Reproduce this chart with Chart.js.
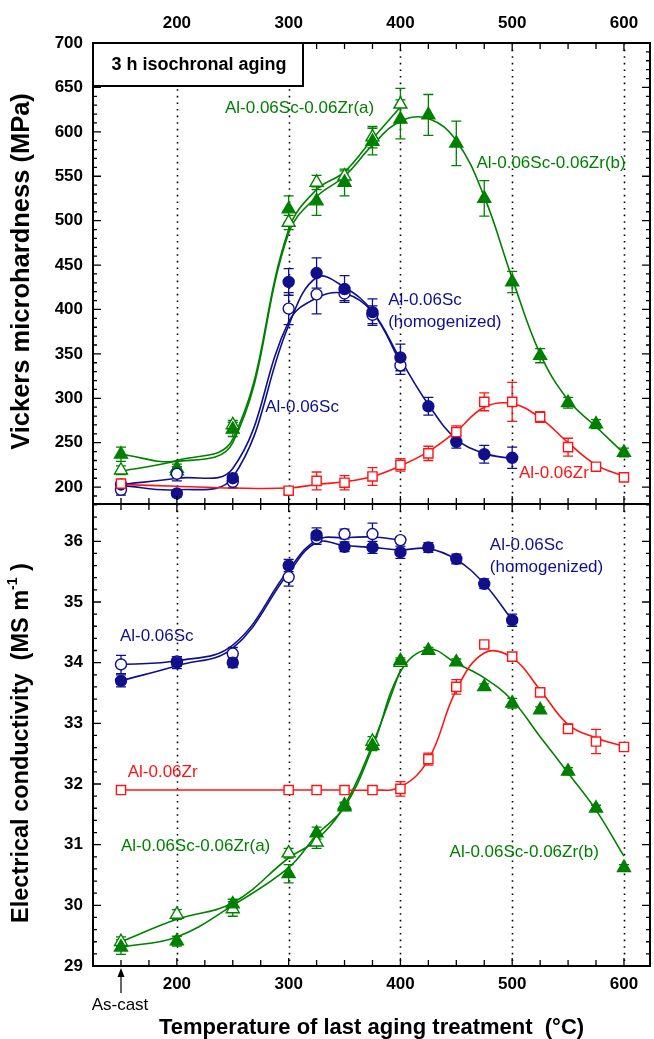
<!DOCTYPE html>
<html>
<head>
<meta charset="utf-8">
<script src="https://cdn.jsdelivr.net/npm/chart.js@4.4.0/dist/chart.umd.min.js"></script>
<style>
  body { margin: 0; background: #fff; }
  #wrap { position: relative; width: 654px; height: 1039px; }
  canvas { position: absolute; left: 0; }
</style>
</head>
<body>
<div id="wrap">
  <canvas id="hv" width="654" height="510" style="top:0px"></canvas>
  <canvas id="ec" width="654" height="539" style="top:500px"></canvas>
</div>
<script>
// aging temperatures (150 = as-cast)
const temps = [150, 200, 250, 300, 325, 350, 375, 400, 425, 450, 475, 500, 525, 550, 575, 600];
const xTickLabels = [200, 300, 400, 500, 600];
const hvTicks = [200, 250, 300, 350, 400, 450, 500, 550, 600, 650, 700];
const ecTicks = [29, 30, 31, 32, 33, 34, 35, 36];

// Vickers microhardness (MPa): markers, error bars, fitted curve
const hvZrB    = [237, 221, 265, 513, 522, 543, 589, 614, 619, 587, 525, 431, 348, 295, 271, 239];
const hvZrBErr = [8, 5, 8, 15, 16, 15, 15, 22, 23, 25, 20, 12, 8, 6, 5, 5];
const hvZrBFit = [237, 229, 250, 486, 527, 550, 585, 612, 615, 590, 527, 435, 350, 298, 268, 238];
const hvZrA    = [219, 218, 270, 498, 543, 550, 594, 631];
const hvZrAErr = [5, 5, 5, 8, 8, 6, 12, 18];
const hvZrAFit = [218, 230, 254, 490, 535, 555, 592, 628];
const hvScHom    = [203, 193, 210, 431, 441, 423, 397, 346, 291, 251, 237, 233];
const hvScHomErr = [5, 4, 5, 15, 17, 15, 15, 15, 10, 7, 10, 12];
const hvScHomFit = [202, 197, 211, 382, 436, 425, 398, 344, 293, 254, 238, 232];
const hvSc    = [197, 215, 206, 401, 417, 418, 394, 337];
const hvScErr = [6, 8, 7, 18, 22, 8, 10, 10];
const hvScFit = [203, 210, 221, 386, 413, 418, 397, 340];
const hvZr    = [204, null, null, 196, 207, 205, 212, 225, 238, 262, 296, 296, 279, 245, 223, 211];
const hvZrErr = [4, 0, 0, 4, 10, 8, 10, 7, 8, 7, 10, 22, 6, 10, 4, 4];
const hvZrFit = [203, 201, 199, 199, 203, 206, 212, 224, 240, 263, 290, 294, 278, 250, 225, 212];

// electrical conductivity (MS/m)
const ecZrB    = [29.31, 29.41, 30.02, 30.52, 31.19, 31.62, 32.63, 34.03, 34.20, 34.01, 33.60, 33.33, 33.22, 32.21, 31.60, 30.62];
const ecZrBErr = [0.12, 0.08, 0.08, 0.15, 0.1, 0.06, 0.08, 0.05, 0.05, 0.05, 0.05, 0.08, 0.05, 0.06, 0.05, 0.05];
const ecZrBFit = [29.31, 29.48, 30.00, 30.62, 31.16, 31.62, 32.60, 33.85, 34.22, 33.99, 33.75, 33.38, 32.78, 32.18, 31.57, 30.81];
const ecZrA    = [29.40, 29.85, 29.94, 30.86, 31.04, 31.65, 32.70, 34.00];
const ecZrAErr = [0.08, 0.08, 0.12, 0.08, 0.1, 0.05, 0.08, 0.05];
const ecZrAFit = [29.40, 29.77, 30.04, 30.78, 31.08, 31.65, 32.65, 33.88];
const ecScHom    = [33.70, 34.00, 34.00, 35.60, 36.10, 35.91, 35.90, 35.82, 35.90, 35.71, 35.30, 34.70];
const ecScHomErr = [0.1, 0.1, 0.08, 0.1, 0.12, 0.08, 0.1, 0.1, 0.08, 0.08, 0.08, 0.1];
const ecScHomFit = [33.70, 33.95, 34.24, 35.48, 35.98, 35.93, 35.90, 35.86, 35.88, 35.70, 35.30, 34.70];
const ecSc    = [33.97, 34.02, 34.15, 35.41, 36.05, 36.12, 36.12, 36.02];
const ecScErr = [0.15, 0.08, 0.1, 0.15, 0.1, 0.08, 0.18, 0.05];
const ecScFit = [33.97, 34.03, 34.29, 35.53, 36.02, 36.06, 36.07, 36.02];
const ecZr    = [31.90, null, null, 31.90, 31.90, 31.90, 31.90, 31.92, 32.41, 33.60, 34.30, 34.10, 33.51, 32.91, 32.70, 32.61];
const ecZrErr = [0, 0, 0, 0, 0, 0, 0, 0.12, 0.1, 0.12, 0.05, 0.05, 0.05, 0.08, 0.2, 0.05];
const ecZrFit = [31.90, 31.90, 31.90, 31.90, 31.90, 31.90, 31.90, 31.95, 32.40, 33.55, 34.16, 34.08, 33.55, 32.98, 32.76, 32.62];

const GREEN = '#008000', BLUE = '#10108c', RED = '#ff1414';
const FONT = '"Liberation Sans", Arial, Helvetica, sans-serif';
Chart.defaults.font.family = FONT;
Chart.defaults.color = '#000';

function pts(vals) {
  return vals.map((v, i) => v == null ? null : { x: temps[i], y: v }).filter(Boolean);
}

function series(vals, errs, fit, color, style, filled, r) {
  return [
    { data: pts(fit), borderColor: color, borderWidth: 1.6, pointRadius: 0, tension: 0.4, order: 2 },
    {
      data: vals.map((v, i) => v == null ? null : { x: temps[i], y: v, e: errs[i] }).filter(Boolean),
      showLine: false, pointStyle: style, pointRadius: r, backgroundColor: filled ? color : '#fff',
      borderColor: color, borderWidth: 1.4, order: 1, errs: true
    }
  ];
}

// dotted verticals + error bars under the markers
const underlay = {
  id: 'underlay',
  beforeDatasetsDraw(chart) {
    const { ctx, chartArea: a, scales: { x, y } } = chart;
    ctx.save();
    ctx.strokeStyle = '#000';
    ctx.lineWidth = 1.6;
    ctx.setLineDash([1.6, 5]);
    xTickLabels.forEach(t => {
      const px = Math.round(x.getPixelForValue(t)) + 0.5;
      ctx.beginPath(); ctx.moveTo(px, a.top); ctx.lineTo(px, a.bottom); ctx.stroke();
    });
    ctx.setLineDash([]);
    ctx.lineWidth = 1.3;
    chart.data.datasets.forEach(ds => {
      if (!ds.errs) return;
      ctx.strokeStyle = ds.borderColor;
      ds.data.forEach(p => {
        if (!p.e) return;
        const px = x.getPixelForValue(p.x);
        const t = y.getPixelForValue(p.y + p.e), b = y.getPixelForValue(p.y - p.e);
        ctx.beginPath();
        ctx.moveTo(px, t); ctx.lineTo(px, b);
        ctx.moveTo(px - 5, t); ctx.lineTo(px + 5, t);
        ctx.moveTo(px - 5, b); ctx.lineTo(px + 5, b);
        ctx.stroke();
      });
    });
    ctx.restore();
  }
};

// frame with inward ticks on all four sides
function makeFrame(minor, ratio) {
  return {
    id: 'frame',
    afterDatasetsDraw(chart) {
      const { ctx, chartArea: a, scales: { x, y } } = chart;
      ctx.save();
      ctx.strokeStyle = '#000';
      ctx.lineWidth = 1.3;
      ctx.beginPath();
      for (let t = 150; t <= 600; t += 25) {
        const px = x.getPixelForValue(t), len = t % 100 === 0 ? 8 : 6;
        ctx.moveTo(px, a.top); ctx.lineTo(px, a.top + len);
        ctx.moveTo(px, a.bottom); ctx.lineTo(px, a.bottom - len);
      }
      const k0 = Math.ceil(y.min / minor - 1e-6), k1 = Math.floor(y.max / minor + 1e-6);
      for (let k = k0; k <= k1; k++) {
        const py = y.getPixelForValue(k * minor), len = k % ratio === 0 ? 8 : 4;
        ctx.moveTo(a.left, py); ctx.lineTo(a.left + len, py);
        ctx.moveTo(a.right, py); ctx.lineTo(a.right - len, py);
      }
      ctx.stroke();
      ctx.lineWidth = 2;
      ctx.strokeRect(a.left, a.top, a.right - a.left, a.bottom - a.top);
      ctx.restore();
    }
  };
}

function makeNotes(list) {
  return {
    id: 'notes',
    afterDraw(chart) {
      const { ctx, scales: { x, y } } = chart;
      ctx.save();
      ctx.font = '17px ' + FONT;
      ctx.textBaseline = 'middle';
      ctx.textAlign = 'left';
      list.forEach(n => {
        ctx.fillStyle = n.c;
        ctx.fillText(n.t, x.getPixelForValue(n.x), y.getPixelForValue(n.y));
      });
      ctx.restore();
    }
  };
}

const hvNotes = [
  { t: 'Al-0.06Sc-0.06Zr(a)', x: 243, y: 626, c: GREEN },
  { t: 'Al-0.06Sc-0.06Zr(b)', x: 468, y: 565, c: GREEN },
  { t: 'Al-0.06Sc', x: 279, y: 290, c: BLUE },
  { t: 'Al-0.06Sc', x: 389, y: 410.6, c: BLUE },
  { t: '(homogenized)', x: 389, y: 385, c: BLUE },
  { t: 'Al-0.06Zr', x: 506, y: 216, c: RED }
];
const ecNotes = [
  { t: 'Al-0.06Sc', x: 149, y: 34.43, c: BLUE },
  { t: 'Al-0.06Sc', x: 480, y: 35.94, c: BLUE },
  { t: '(homogenized)', x: 480, y: 35.57, c: BLUE },
  { t: 'Al-0.06Zr', x: 156, y: 32.2, c: RED },
  { t: 'Al-0.06Sc-0.06Zr(a)', x: 150, y: 30.98, c: GREEN },
  { t: 'Al-0.06Sc-0.06Zr(b)', x: 444, y: 30.88, c: GREEN }
];

const hvExtras = {
  id: 'hvExtras',
  afterDraw(chart) {
    const { ctx, chartArea: a } = chart;
    ctx.save();
    ctx.fillStyle = '#fff';
    ctx.fillRect(a.left, a.top, 210, 43);
    ctx.strokeStyle = '#000';
    ctx.lineWidth = 2;
    ctx.strokeRect(a.left, a.top, 210, 43);
    ctx.fillStyle = '#000';
    ctx.font = 'bold 18px ' + FONT;
    ctx.textAlign = 'center';
    ctx.textBaseline = 'middle';
    ctx.fillText('3 h isochronal aging', a.left + 106, a.top + 22);
    ctx.translate(22, 271.5);
    ctx.rotate(-Math.PI / 2);
    ctx.font = 'bold 25.5px ' + FONT;
    ctx.fillText('Vickers microhardness (MPa)', 0, 0);
    ctx.restore();
  }
};

const ecExtras = {
  id: 'ecExtras',
  afterDraw(chart) {
    const { ctx, chartArea: a, scales: { x } } = chart;
    ctx.save();
    // y title with superscript
    const main = 'Electrical conductivity  (MS m', sup = '-1', tail = ' )';
    ctx.translate(22, 243);
    ctx.rotate(-Math.PI / 2);
    ctx.fillStyle = '#000';
    ctx.textBaseline = 'middle';
    ctx.textAlign = 'left';
    ctx.font = 'bold 23.5px ' + FONT;
    const w1 = ctx.measureText(main).width, w3 = ctx.measureText(tail).width;
    ctx.font = 'bold 14px ' + FONT;
    const w2 = ctx.measureText(sup).width;
    let s = -(w1 + w2 + w3) / 2;
    ctx.font = 'bold 23.5px ' + FONT;
    ctx.fillText(main, s, 0);
    ctx.font = 'bold 14px ' + FONT;
    ctx.fillText(sup, s + w1, -9);
    ctx.font = 'bold 23.5px ' + FONT;
    ctx.fillText(tail, s + w1 + w2, 0);
    ctx.restore();

    // as-cast marker
    const px = x.getPixelForValue(150);
    ctx.save();
    ctx.strokeStyle = '#000';
    ctx.fillStyle = '#000';
    ctx.lineWidth = 1.2;
    ctx.beginPath(); ctx.moveTo(px, a.bottom + 27); ctx.lineTo(px, a.bottom + 8); ctx.stroke();
    ctx.beginPath();
    ctx.moveTo(px, a.bottom + 2); ctx.lineTo(px - 3.5, a.bottom + 11); ctx.lineTo(px + 3.5, a.bottom + 11);
    ctx.closePath(); ctx.fill();
    ctx.font = '17px ' + FONT;
    ctx.textAlign = 'center';
    ctx.textBaseline = 'middle';
    ctx.fillText('As-cast', px - 1, a.bottom + 39);
    ctx.restore();
  }
};

function noPad(s) {
  s.paddingTop = 0; s.paddingBottom = 0; s.paddingLeft = 0; s.paddingRight = 0;
}

function baseOptions(yMin, yMax, yTicks, xPos, xHeight, pad) {
  return {
    responsive: false,
    animation: false,
    events: [],
    layout: { padding: pad, autoPadding: false },
    plugins: { legend: { display: false }, tooltip: { enabled: false } },
    scales: {
      x: {
        type: 'linear', position: xPos, min: 124.95, max: 623.3,
        grid: { display: false, drawTicks: false }, border: { display: false },
        afterBuildTicks: s => { s.ticks = xTickLabels.map(v => ({ value: v })); },
        afterFit: s => { s.height = xHeight; noPad(s); },
        ticks: { padding: xPos === 'top' ? 9 : 8, autoSkip: false, maxRotation: 0, font: { size: 17, weight: 'bold' } }
      },
      y: {
        type: 'linear', min: yMin, max: yMax,
        grid: { display: false, drawTicks: false }, border: { display: false },
        afterBuildTicks: s => { s.ticks = yTicks.map(v => ({ value: v })); },
        afterFit: s => { s.width = 93; noPad(s); },
        ticks: { padding: 10, autoSkip: false, font: { size: 17, weight: 'bold' } }
      }
    }
  };
}

const hvOptions = baseOptions(181, 700, hvTicks, 'top', 43, { top: 0, right: 4, bottom: 6, left: 0 });

new Chart(document.getElementById('hv'), {
  type: 'line',
  data: {
    datasets: [
      ...series(hvZr, hvZrErr, hvZrFit, RED, 'rect', false, 6.5),
      ...series(hvScHom, hvScHomErr, hvScHomFit, BLUE, 'circle', true, 5.5),
      ...series(hvSc, hvScErr, hvScFit, BLUE, 'circle', false, 5.5),
      ...series(hvZrB, hvZrBErr, hvZrBFit, GREEN, 'triangle', true, 7.5),
      ...series(hvZrA, hvZrAErr, hvZrAFit, GREEN, 'triangle', false, 7.5)
    ]
  },
  options: hvOptions,
  plugins: [underlay, makeFrame(10, 5), makeNotes(hvNotes), hvExtras]
});

const ecOptions = baseOptions(29, 36.615, ecTicks, 'bottom', 73, { top: 4, right: 4, bottom: 0, left: 0 });
ecOptions.scales.x.title = {
  display: true, text: 'Temperature of last aging treatment  (°C)',
  font: { size: 22, weight: 'bold', lineHeight: 1 }, padding: { top: 0, bottom: 0 }
};

new Chart(document.getElementById('ec'), {
  type: 'line',
  data: {
    datasets: [
      ...series(ecZr, ecZrErr, ecZrFit, RED, 'rect', false, 6.5),
      ...series(ecScHom, ecScHomErr, ecScHomFit, BLUE, 'circle', true, 5.5),
      ...series(ecSc, ecScErr, ecScFit, BLUE, 'circle', false, 5.5),
      ...series(ecZrB, ecZrBErr, ecZrBFit, GREEN, 'triangle', true, 7.5),
      ...series(ecZrA, ecZrAErr, ecZrAFit, GREEN, 'triangle', false, 7.5)
    ]
  },
  options: ecOptions,
  plugins: [underlay, makeFrame(0.2, 5), makeNotes(ecNotes), ecExtras]
});
</script>
</body>
</html>
